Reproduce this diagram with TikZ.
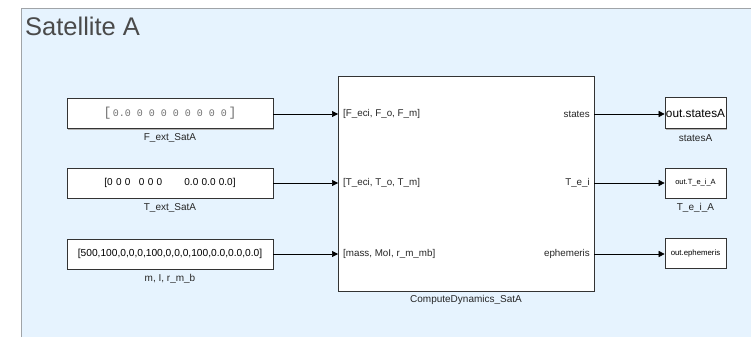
\documentclass[tikz,border=0pt]{standalone}
\usepackage{fontspec}
\setmainfont{Liberation Sans}
\newfontfamily\monofont{Liberation Mono}
\usetikzlibrary{arrows.meta,positioning}
\definecolor{areabg}{HTML}{E6F3FE}
\definecolor{areaedge}{HTML}{A0A4A8}
\definecolor{titlegray}{HTML}{4A4A4A}
\definecolor{valgray}{HTML}{707070}
\begin{document}
\begin{tikzpicture}[x=1pt,y=-1pt,
  blk/.style={draw=black!80,line width=0.7pt,fill=white,inner sep=0pt,
    minimum width=#1},
  shadowed/.style={preaction={fill=black!30,transform canvas={xshift=1.2pt,yshift=-1.2pt}}},
  blklabel/.style={font=\fontsize{10}{12}\selectfont,text=black!85,inner sep=0pt},
  port/.style={font=\fontsize{9.8}{12}\selectfont,text=black!85,inner sep=0pt},
  sig/.style={line width=0.6pt,-{Triangle[length=6pt,width=6pt]}}
]
\useasboundingbox (0,0) rectangle (751,337);
% subsystem area
\fill[areabg] (21,9) rectangle (751,337);
\draw[areaedge,line width=1pt] (21,337) -- (21,9) -- (751,9);
\node[anchor=west,text=titlegray,font=\fontsize{25.5}{28}\selectfont,inner sep=0pt] (title) at (25,26) {Satellite A};

% constant source blocks
\node[blk=206pt,shadowed,minimum height=30pt] (fext) at (170,113.5) {};
\node[font=\monofont\fontsize{10}{12}\selectfont,text=valgray] at (fext) {{\fontsize{13}{14}\selectfont[}\,0.0 0 0 0 0 0 0 0 0\,{\fontsize{13}{14}\selectfont]}};
\node[blklabel] (fextl) at (170,138) {F\_ext\_SatA};

\node[blk=206pt,shadowed,minimum height=30pt] (text) at (170,183) {};
\node[font=\fontsize{10}{12}\selectfont] at (text) {[0\,\,0\,\,0\ \ \ 0\,\,0\,\,0\ \ \ \ \ \ \ \ 0.0\,\,0.0\,\,0.0]};
\node[blklabel] (textl) at (170,208) {T\_ext\_SatA};

\node[blk=206pt,shadowed,minimum height=30pt] (mass) at (170,254) {};
\node[font=\fontsize{10.2}{12}\selectfont] at (mass) {[500,100,0,0,0,100,0,0,0,100,0.0,0.0,0.0]};
\node[blklabel] (massl) at (170,279) {m, I, r\_m\_b};

% dynamics subsystem
\node[blk=256pt,shadowed,minimum height=215pt] (dyn) at (466,183.5) {};
\node[blklabel] (dynl) at (466,300) {ComputeDynamics\_SatA};
\coordinate (in1) at (338,114);
\coordinate (in2) at (338,183);
\coordinate (in3) at (338,254);
\coordinate (out1) at (594,114);
\coordinate (out2) at (594,183);
\coordinate (out3) at (594,254);
\node[port,anchor=west] (p1) at (343,114) {[F\_eci, F\_o, F\_m]};
\node[port,anchor=west] (p2) at (343,183) {[T\_eci, T\_o, T\_m]};
\node[port,anchor=west] (p3) at (343,254) {[mass, MoI, r\_m\_mb]};
\node[port,anchor=east] (q1) at (590,114) {states};
\node[port,anchor=east] (q2) at (590,183) {T\_e\_i};
\node[port,anchor=east] (q3) at (590,254) {ephemeris};

% workspace sinks
\node[blk=61pt,shadowed,minimum height=31pt] (s1) at (695.5,113) {};
\node[font=\fontsize{11.8}{13}\selectfont] at (s1) {out.statesA};
\node[blklabel] (s1l) at (695.5,138) {statesA};
\node[blk=61pt,shadowed,minimum height=30pt] (s2) at (695.5,183) {};
\node[font=\fontsize{7.5}{9}\selectfont] at (s2) {out.T\_e\_i\_A};
\node[blklabel] (s2l) at (695.5,208) {T\_e\_i\_A};
\node[blk=61pt,shadowed,minimum height=30pt] (s3) at (695.5,253) {};
\node[font=\fontsize{7.8}{9}\selectfont] at (s3) {out.ephemeris};

% signal lines
\draw[sig] (fext.east |- in1) -- (in1);
\draw[sig] (text.east |- in2) -- (in2);
\draw[sig] (mass.east |- in3) -- (in3);
\draw[sig] (out1) -- (s1.west |- out1);
\draw[sig] (out2) -- (s2.west |- out2);
\draw[sig] (out3) -- (s3.west |- out3);
\end{tikzpicture}
\end{document}
